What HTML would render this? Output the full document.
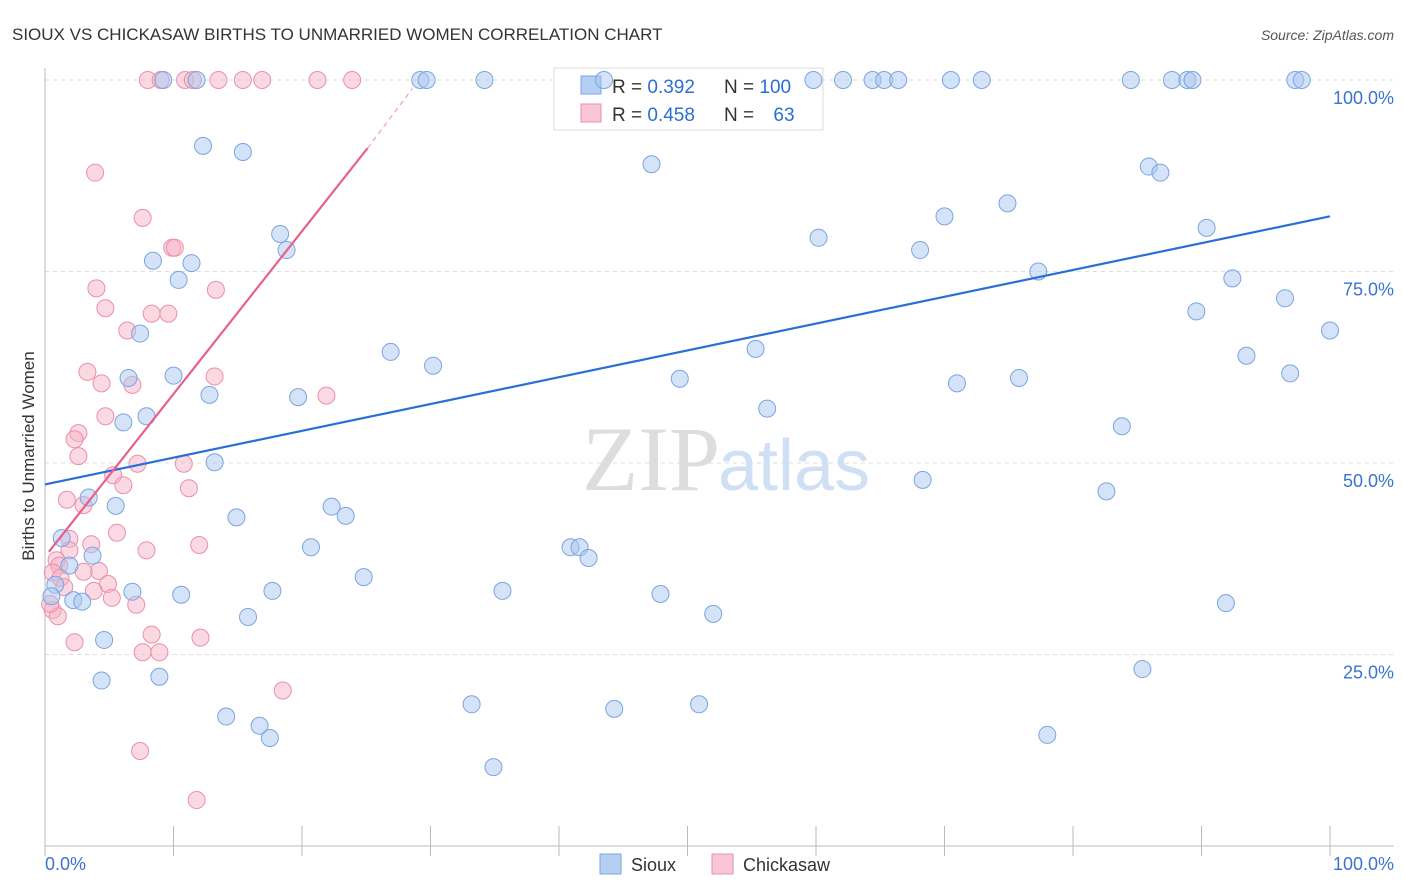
<!DOCTYPE html>
<html><head><meta charset="utf-8"><style>
body{margin:0;background:#fff;font-family:"Liberation Sans",sans-serif;}
svg{display:block}
</style></head><body>
<svg id="chart" width="1406" height="892">
<text x="12" y="40" font-size="17" fill="#333">SIOUX VS CHICKASAW BIRTHS TO UNMARRIED WOMEN CORRELATION CHART</text>
<text x="1394" y="40" font-size="14" fill="#555" font-style="italic" text-anchor="end">Source: ZipAtlas.com</text>
<g id="grid"></g>
<text x="720" y="490" font-size="92" fill="#ddd" text-anchor="end" font-family="Liberation Serif,serif">ZIP</text>
<text x="718" y="490" font-size="72" fill="#cfe0f5">atlas</text>
<g>
<rect x="554" y="68" width="269" height="62" fill="#fff" stroke="#ddd"/>
<rect x="581" y="76" width="20" height="18" fill="#b5cff2" stroke="#7aa5e0"/>
<rect x="581" y="104" width="20" height="18" fill="#f8c6d4" stroke="#eb8fab"/>
<text x="612" y="93" font-size="19" fill="#333">R = <tspan fill="#2a6fd6">0.392</tspan></text>
<text x="724" y="93" font-size="19" fill="#333">N = <tspan fill="#2a6fd6">100</tspan></text>
<text x="612" y="121" font-size="19" fill="#333">R = <tspan fill="#2a6fd6">0.458</tspan></text>
<text x="724" y="121" font-size="19" fill="#333">N = <tspan fill="#2a6fd6" dx="14">63</tspan></text>
</g>
<g id="pts"></g>
<g id="lines"></g>
<text transform="translate(34,456) rotate(-90)" font-size="17" fill="#333" text-anchor="middle">Births to Unmarried Women</text>
<g>
<rect x="600" y="854" width="21" height="20" fill="#b5cff2" stroke="#7aa5e0"/>
<text x="631" y="871" font-size="18" fill="#333">Sioux</text>
<rect x="712" y="854" width="21" height="20" fill="#f8c6d4" stroke="#eb8fab"/>
<text x="743" y="871" font-size="18" fill="#333">Chickasaw</text>
</g>
<text x="45" y="870" font-size="18" fill="#3a73d0">0.0%</text>
<text x="1394" y="870" font-size="18" fill="#3a73d0" text-anchor="end">100.0%</text>
</svg>
<script>
const NS="http://www.w3.org/2000/svg";
const yTicks=[100,75,50,25];
const yTickLabels=["100.0%","75.0%","50.0%","25.0%"];
const xTicks=[0,10,20,30,40,50,60,70,80,90,100];
const siouxX=[9.2,11.8,29.2,29.7,34.2,43.5,59.8,62.1,64.4,65.3,66.4,70.5,72.9,84.5,87.7,88.9,89.3,97.3,97.8,12.3,15.4,47.2,85.9,86.8,74.9,70.0,90.4,18.3,18.8,60.2,68.1,8.4,11.4,10.4,77.3,92.4,96.5,89.6,100,7.4,26.9,55.3,93.5,30.2,6.5,10.0,49.4,75.8,70.97,96.9,12.8,19.7,56.2,6.1,7.9,83.8,13.2,68.3,82.6,3.4,5.5,22.3,23.4,14.9,1.3,20.7,40.9,41.6,42.3,3.7,1.9,24.8,0.8,0.5,2.2,2.9,6.8,10.6,17.7,35.6,47.9,91.9,52.0,15.8,4.6,85.4,4.4,8.9,33.2,44.3,50.9,14.1,16.7,17.5,78.0,34.9];
const siouxY=[100,100,100,100,100,100,100,100,100,100,100,100,100,100,100,100,100,100,100,91.4,90.6,89.0,88.7,87.9,83.9,82.2,80.7,79.9,77.8,79.4,77.8,76.4,76.1,73.9,75.0,74.1,71.5,69.8,67.3,66.9,64.5,64.9,64.0,62.7,61.1,61.4,61.0,61.1,60.4,61.7,58.9,58.6,57.1,55.3,56.1,54.8,50.1,47.8,46.3,45.5,44.4,44.3,43.1,42.9,40.2,39.0,39.0,39.0,37.6,37.9,36.6,35.1,34.1,32.6,32.1,31.9,33.2,32.8,33.3,33.3,32.9,31.7,30.3,29.9,26.9,23.1,21.6,22.1,18.5,17.9,18.5,16.9,15.7,14.1,14.5,10.3];
const chickX=[8.0,9.0,10.9,11.5,13.5,15.4,16.9,21.2,23.9,3.9,7.6,9.9,10.1,4.0,13.3,4.7,8.3,9.6,6.4,3.3,13.2,4.4,6.8,21.9,4.7,2.6,2.3,2.6,7.2,10.8,11.2,5.3,6.1,1.7,3.0,5.6,1.9,3.6,12.0,7.9,1.9,0.9,1.1,0.6,4.2,3.0,1.2,4.9,1.5,3.8,5.2,7.1,0.6,1.0,8.3,12.1,2.3,7.6,8.9,18.5,7.4,11.8,0.4];
const chickY=[100,100,100,100,100,100,100,100,100,87.9,82.0,78.1,78.1,72.8,72.6,70.2,69.5,69.5,67.3,61.9,61.3,60.4,60.2,58.8,56.1,53.9,53.1,50.9,49.9,49.9,46.7,48.4,47.1,45.2,44.5,40.9,40.1,39.4,39.3,38.6,38.6,37.3,36.6,35.7,35.9,35.8,35.0,34.2,33.8,33.3,32.4,31.5,30.8,30.0,27.6,27.2,26.6,25.3,25.3,20.3,12.4,6.0,31.6];
const X=v=>45+v*12.85, Y=v=>846-v*7.66;
const grid=document.getElementById('grid');
function mk(tag,attrs,parent){const e=document.createElementNS(NS,tag);for(const k in attrs)e.setAttribute(k,attrs[k]);parent.appendChild(e);return e;}
yTicks.forEach((t,i)=>{
 const l=mk('line',{x1:45,x2:1394,y1:Y(t),y2:Y(t),stroke:'#ddd','stroke-dasharray':'4,4'},grid);
 
 
 const tx=mk('text',{x:1394,y:Y(t)+24,'font-size':18,fill:'#3a73d0','text-anchor':'end'},grid);
 tx.textContent=yTickLabels[i];
 
 
});
const ax=mk('line',{x1:45,x2:45,y1:68,y2:846,stroke:'#bbb'},grid);


const bx=mk('line',{x1:45,x2:1394,y1:846,y2:846,stroke:'#bbb'},grid);


xTicks.forEach(t=>{
 const l=mk('line',{x1:X(t),x2:X(t),y1:826,y2:856,stroke:'#bbb'},grid);
 
 
});
const pts=document.getElementById('pts');
function dots(xs,ys,fill,stroke,name){xs.forEach((v,i)=>{
 const c=mk('circle',{cx:X(v),cy:Y(ys[i]),r:8.5,fill:fill,'fill-opacity':0.5,stroke:stroke,'stroke-width':1},pts);
 
 
});}
dots(chickX,chickY,'#f5b3c6','#eb8fab','chickasaw-point');
dots(siouxX,siouxY,'#a9c7ef','#7aa5e0','sioux-point');
const lines=document.getElementById('lines');
const bl=mk('line',{x1:X(0),y1:Y(47.2),x2:X(100),y2:Y(82.2),stroke:'#2a6fd6','stroke-width':2.2},lines);


const pl=mk('line',{x1:X(0.3),y1:Y(38.4),x2:X(25.1),y2:Y(91.1),stroke:'#e8608a','stroke-width':2.2},lines);


const pd=mk('line',{x1:X(25.1),y1:Y(91.1),x2:X(28.6),y2:Y(98.9),stroke:'#f0a0b8','stroke-width':1.2,'stroke-dasharray':'5,4'},lines);


</script>
</body></html>
